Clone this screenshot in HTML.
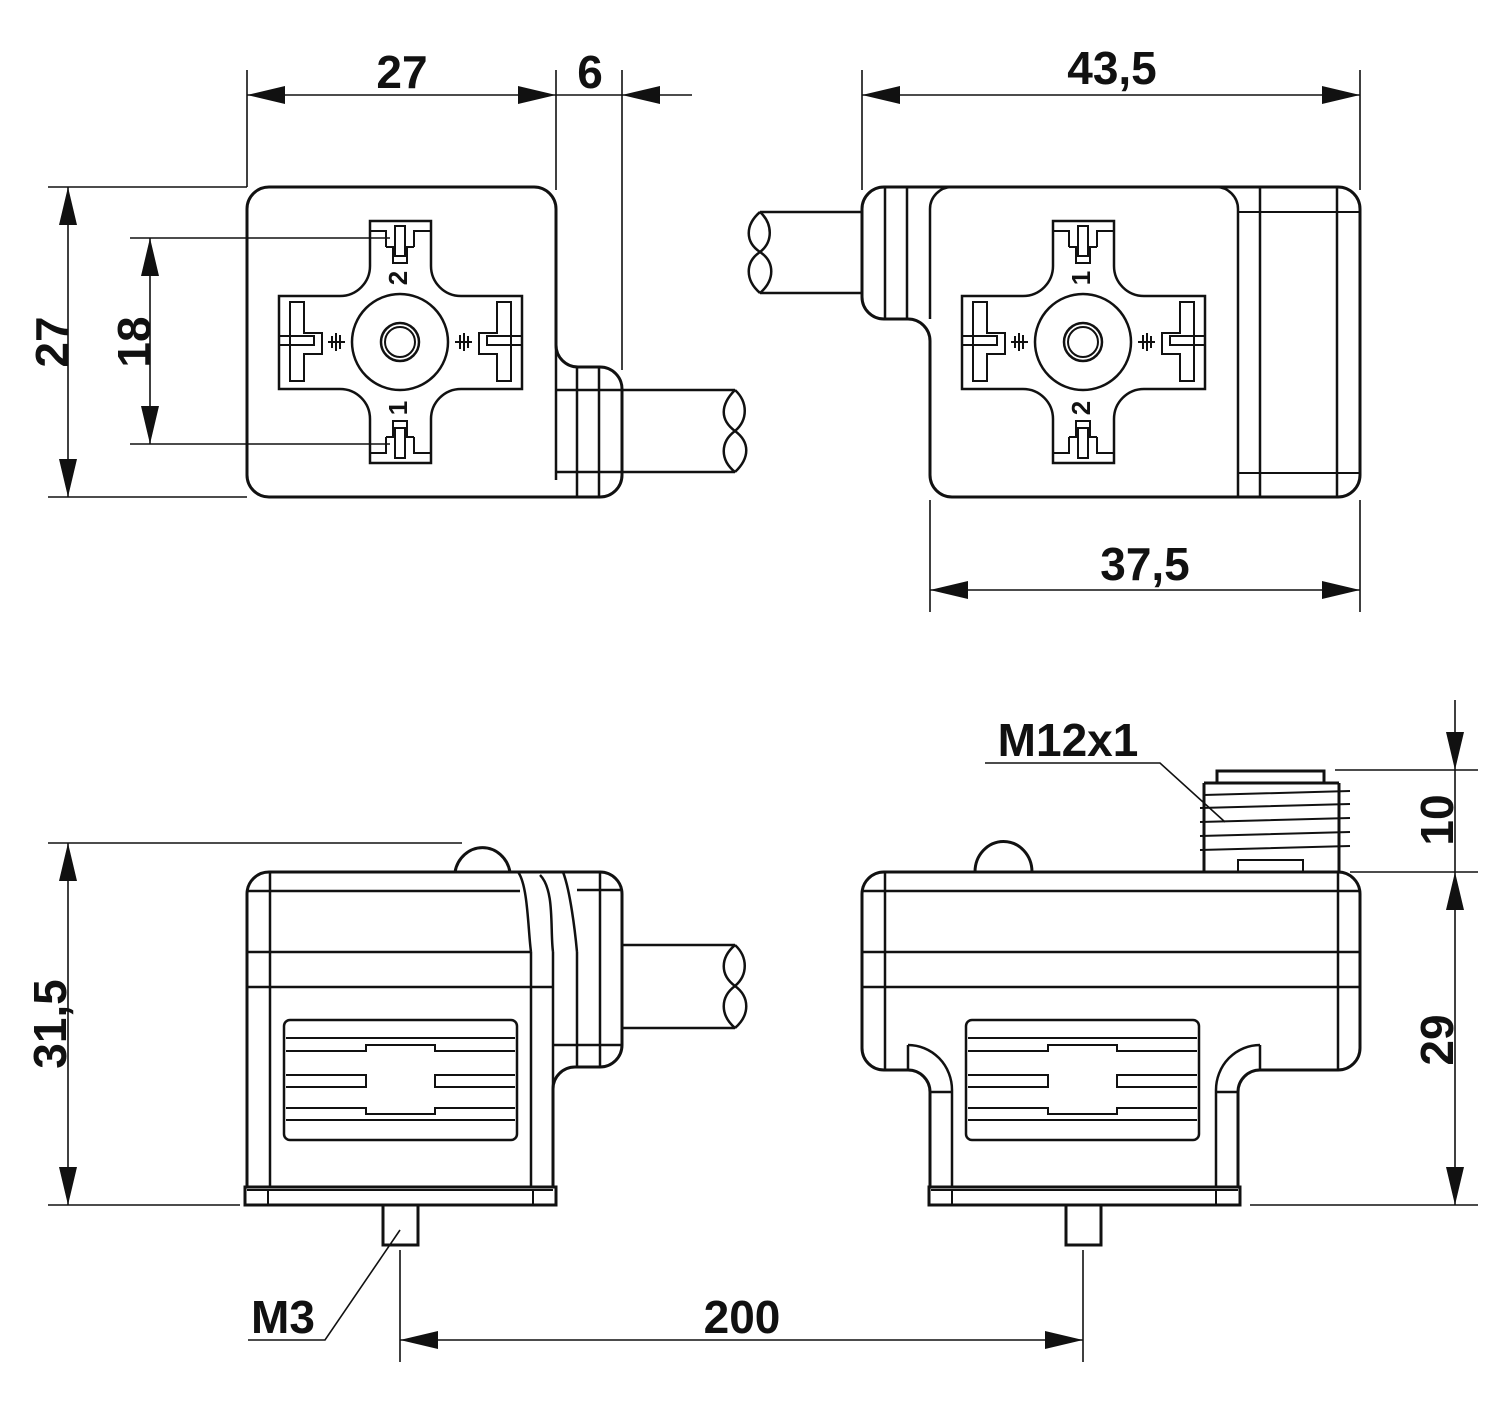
<!DOCTYPE html>
<html><head><meta charset="utf-8"><style>
html,body{margin:0;padding:0;background:#fff}
svg{display:block}
text{font-family:"Liberation Sans",sans-serif;font-weight:bold;fill:#111}
</style></head><body>
<svg width="1500" height="1406" viewBox="0 0 1500 1406" xmlns="http://www.w3.org/2000/svg">
<defs>
<g id="cross">
  <path d="M370,221 H431 V266 A30,30 0 0 0 461,296 H522 V389 H461 A30,30 0 0 0 431,419 V463 H370 V419 A30,30 0 0 0 340,389 H279 V296 H340 A30,30 0 0 0 370,266 Z" fill="none" stroke="#111" stroke-width="2.5"/>
  <circle cx="400" cy="342" r="48" fill="none" stroke="#111" stroke-width="2.5"/>
  <circle cx="400" cy="342" r="19" fill="none" stroke="#111" stroke-width="2.5"/>
  <circle cx="400" cy="342" r="15" fill="none" stroke="#111" stroke-width="2"/>
  <path d="M370,231 H386 V247 M431,231 H414 V247 M386,247 H393 V263 H407 V247 H414" fill="none" stroke="#111" stroke-width="2"/>
  <rect x="395" y="226" width="10" height="30" fill="none" stroke="#111" stroke-width="2"/>
  <path d="M370,453 H386 V437 M431,453 H414 V437 M386,437 H393 V421 H407 V437 H414" fill="none" stroke="#111" stroke-width="2"/>
  <rect x="395" y="428" width="10" height="30" fill="none" stroke="#111" stroke-width="2"/>
  <path d="M290,302 H304 V333 H322 V354 H304 V381 H290 Z" fill="none" stroke="#111" stroke-width="2"/>
  <path d="M279,336 H314 V345 H279" fill="none" stroke="#111" stroke-width="2"/>
  <path d="M511,302 H497 V333 H479 V354 H497 V381 H511 Z" fill="none" stroke="#111" stroke-width="2"/>
  <path d="M522,336 H487 V345 H522" fill="none" stroke="#111" stroke-width="2"/>
  <path d="M328,342 H345 M332,336 V348 M336,333 V351 M340,335 V349" stroke="#111" stroke-width="2"/>
  <path d="M455,342 H472 M468,336 V348 M464,333 V351 M460,335 V349" stroke="#111" stroke-width="2"/>
</g>
<g id="panel">
  <rect x="0" y="0" width="233" height="120" rx="6" fill="none" stroke="#111" stroke-width="2.5"/>
  <path d="M2,18 H231 M2,31 H82 V25 H151 V31 H231 M2,88 H82 V94 H151 V88 H231 M2,100 H231" fill="none" stroke="#111" stroke-width="2"/>
  <path d="M2,55 H82 V67 H2 M231,55 H151 V67 H231" fill="none" stroke="#111" stroke-width="2"/>
</g>
</defs>

<g fill="none" stroke="#111" stroke-width="3">
<path d="M269,187 H534 A22,22 0 0 1 556,209 V345 A22,22 0 0 0 578,367 H600 A22,22 0 0 1 622,389 V475 A22,22 0 0 1 600,497 H269 A22,22 0 0 1 247,475 V209 A22,22 0 0 1 269,187 Z"/>
<path d="M556,345 V480" stroke-width="2.5"/>
<path d="M556,390 H735 M556,472 H735 M577,367 V497 M599,367 V497" stroke-width="2.5"/>
<path d="M735,390 C720,405 720,420 735,431 C750,442 750,458 735,472 M735,390 C748,402 748,420 735,431 C720,442 720,460 735,472" stroke-width="2.5"/>
</g>
<use href="#cross"/>
<text font-size="26" transform="translate(400,278) rotate(-90)" text-anchor="middle" dominant-baseline="middle">2</text>
<text font-size="26" transform="translate(400,408) rotate(-90)" text-anchor="middle" dominant-baseline="middle">1</text>

<g fill="none" stroke="#111" stroke-width="3">
<path d="M884,187 A22,22 0 0 0 862,209 V297 A22,22 0 0 0 884,319 H908 A22,22 0 0 1 930,341 V475 A22,22 0 0 0 952,497 H1338 A22,22 0 0 0 1360,475 V209 A22,22 0 0 0 1338,187 Z"/>
<path d="M952,187 H1216 A22,22 0 0 1 1238,209 V497 M952,187 A22,22 0 0 0 930,209 V319 M1260,187 V497 M1337,187 V497 M885,187 V319 M907,187 V319" stroke-width="2.5"/>
<path d="M1238,212 H1360 M1238,473 H1360" stroke-width="2"/>
<path d="M862,212 H760 M862,293 H760" stroke-width="2.5"/>
<path d="M760,212 C745,225 745,242 760,252 C775,262 775,280 760,293 M760,212 C773,224 773,242 760,252 C745,262 745,280 760,293" stroke-width="2.5"/>
</g>
<use href="#cross" transform="translate(683,0)"/>
<text font-size="26" transform="translate(1083,278) rotate(-90)" text-anchor="middle" dominant-baseline="middle">1</text>
<text font-size="26" transform="translate(1083,408) rotate(-90)" text-anchor="middle" dominant-baseline="middle">2</text>

<g fill="none" stroke="#111" stroke-width="3">
<path d="M455,872 A28,30 0 0 1 510,872"/>
<path d="M269,872 H600 A22,22 0 0 1 622,894 V1045 A22,22 0 0 1 600,1067 H575 A22,22 0 0 0 553,1089 V1188 M269,872 A22,22 0 0 0 247,894 V1188"/>
<path d="M247,891 H520 M247,952 H530 M247,987 H553 M270,872 V1188 M531,952 V1188 M518,872 C528,885 528,930 531,952 M540,875 C555,890 550,930 553,952 M553,952 V1188 M563,872 C570,890 575,930 577,952 M577,952 V1067 M600,872 V1067 M553,1045 H622 M577,890 H622" stroke-width="2.5"/>
<path d="M622,945 H735 M622,1028 H735" stroke-width="2.5"/>
<path d="M735,945 C720,958 720,975 735,986 C750,997 750,1015 735,1028 M735,945 C748,957 748,975 735,986 C720,997 720,1015 735,1028" stroke-width="2.5"/>
<rect x="245" y="1187" width="311" height="18"/>
<path d="M247,1190 H553 M268,1190 V1205 M533,1190 V1205" stroke-width="2"/>
<path d="M383,1205 V1245 H418 V1205"/>
</g>
<use href="#panel" transform="translate(284,1020)"/>

<g fill="none" stroke="#111" stroke-width="3">
<path d="M975,872 A28,30 0 0 1 1032,872"/>
<path d="M1217,783 V771 H1324 V783 M1204,783 H1339 M1204,783 V872 M1339,783 V872"/>
<path d="M1204,795 L1350,791 M1200,808 L1350,804 M1200,822 L1350,818 M1200,836 L1350,832 M1200,850 L1350,846 M1238,872 V860 H1303 V872" stroke-width="2"/>
<path d="M884,872 H1338 A22,22 0 0 1 1360,894 V1048 A22,22 0 0 1 1338,1070 H1260 A22,22 0 0 0 1238,1092 V1188 M884,872 A22,22 0 0 0 862,894 V1048 A22,22 0 0 0 884,1070 H908 A22,22 0 0 1 930,1092 V1188"/>
<path d="M862,891 H1360 M862,952 H1360 M862,987 H1360 M885,872 V1070 M1338,872 V1070 M908,1045 A44,45 0 0 1 952,1090 V1188 M1260,1045 A44,45 0 0 0 1216,1090 V1188 M908,1045 V1070 M1260,1045 V1070 M930,1092 H952 M1216,1092 H1238" stroke-width="2.5"/>
<rect x="929" y="1187" width="311" height="18"/>
<path d="M931,1190 H1238 M952,1190 V1205 M1216,1190 V1205" stroke-width="2"/>
<path d="M1066,1205 V1245 H1101 V1205"/>
</g>
<use href="#panel" transform="translate(966,1020)"/>

<g stroke="#111" stroke-width="1.6" fill="none">
<path d="M247,70 V187 M556,70 V190 M622,70 V370 M247,95 H692"/>
<path d="M862,70 V190 M1360,70 V190 M862,95 H1360"/>
<path d="M930,500 V612 M1360,500 V612 M930,590 H1360"/>
<path d="M48,187 H247 M48,497 H247 M68,187 V497"/>
<path d="M130,238 H390 M130,444 H390 M150,238 V444"/>
<path d="M48,843 H462 M48,1205 H240 M68,843 V1205"/>
<path d="M400,1250 V1362 M1083,1250 V1362 M400,1340 H1083"/>
<path d="M248,1340 H325 L400,1230"/>
<path d="M985,763 H1160 L1225,822"/>
<path d="M1335,770 H1478 M1350,872 H1478 M1250,1205 H1478 M1455,700 V1205"/>
</g>
<g fill="#111">
<polygon points="247,95 285,86 285,104"/><polygon points="556,95 518,86 518,104"/>
<polygon points="622,95 660,86 660,104"/>
<polygon points="862,95 900,86 900,104"/><polygon points="1360,95 1322,86 1322,104"/>
<polygon points="930,590 968,581 968,599"/><polygon points="1360,590 1322,581 1322,599"/>
<polygon points="68,187 59,225 77,225"/><polygon points="68,497 59,459 77,459"/>
<polygon points="150,238 141,276 159,276"/><polygon points="150,444 141,406 159,406"/>
<polygon points="68,843 59,881 77,881"/><polygon points="68,1205 59,1167 77,1167"/>
<polygon points="400,1340 438,1331 438,1349"/><polygon points="1083,1340 1045,1331 1045,1349"/>
<polygon points="1455,770 1446,732 1464,732"/><polygon points="1455,872 1446,910 1464,910"/>
<polygon points="1455,1205 1446,1167 1464,1167"/>
</g>
<g font-size="46">
<text x="402" y="88" text-anchor="middle">27</text>
<text x="590" y="88" text-anchor="middle">6</text>
<text x="1112" y="84" text-anchor="middle">43,5</text>
<text x="1145" y="580" text-anchor="middle">37,5</text>
<text transform="translate(68,342) rotate(-90)" text-anchor="middle">27</text>
<text transform="translate(150,342) rotate(-90)" text-anchor="middle">18</text>
<text transform="translate(66,1024) rotate(-90)" text-anchor="middle">31,5</text>
<text x="283" y="1333" text-anchor="middle">M3</text>
<text x="742" y="1333" text-anchor="middle">200</text>
<text x="1068" y="756" text-anchor="middle">M12x1</text>
<text transform="translate(1453,820) rotate(-90)" text-anchor="middle">10</text>
<text transform="translate(1453,1040) rotate(-90)" text-anchor="middle">29</text>
</g>
</svg>
</body></html>
